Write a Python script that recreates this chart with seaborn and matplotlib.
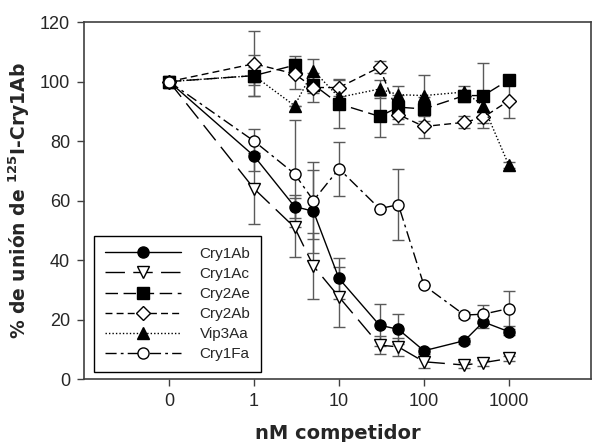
import numpy as np
import matplotlib
matplotlib.use('Agg')
import matplotlib.pyplot as plt
import seaborn as sns
from matplotlib.ticker import NullLocator

# datos (% de union)
conc = [0, 1, 3, 5, 10, 30, 50, 100, 300, 500, 1000]
x_ticks = [0, 1, 10, 100, 1000]
x_tick_labels = ['0', '1', '10', '100', '1000']
zero_pos = 0.1  # el 0 se dibuja una decada por debajo de 1

cry1ab = [100, 75, 58, 56.4, 33.8, 18.1, 16.7, 9.5, 12.9, 19.2, 15.9]
cry1ab_err = [0, 5, 4, 14, 7, 7, 5, 1, 1, 2, 1]
cry1ac = [100, 64, 51, 38, 27.6, 11.4, 10.8, 5.8, 4.7, 5.5, 6.9]
cry1ac_err = [0, 12, 10, 11, 10, 3, 3, 2, 1, 1, 1]
cry2ae = [100, 102, 105.5, 99, 92.5, 88.3, 91.4, 90.8, 95.3, 95.3, 100.6]
cry2ae_err = [0, 7, 3, 3, 8, 7, 4, 4, 2, 11, 0]
cry2ab = [100, 106, 102.6, 98, 98, 104.8, 88.9, 84.9, 86.3, 88, 93.6]
cry2ab_err = [0, 11, 5, 5, 3, 2, 3, 4, 2, 2, 6]
vip3aa = [100, 102, 91.9, 103.7, 94.7, 97.5, 95.6, 95.3, 96.5, 91.9, 71.8]
vip3aa_err = [0, 3, 0, 4, 3, 3, 3, 7, 2, 2, 1]
cry1fa = [100, 80, 69, 60, 70.7, 57.3, 58.6, 31.5, 21.5, 21.8, 23.7]
cry1fa_err = [0, 4, 18, 13, 9, 0, 12, 0, 1, 3, 6]

series = [
    ('Cry1Ab', cry1ab, cry1ab_err, 'o', 'black', '-'),
    ('Cry1Ac', cry1ac, cry1ac_err, 'v', 'white', (0, (14, 6))),
    ('Cry2Ae', cry2ae, cry2ae_err, 's', 'black', (0, (9, 4))),
    ('Cry2Ab', cry2ab, cry2ab_err, 'D', 'white', (0, (5, 3))),
    ('Vip3Aa', vip3aa, vip3aa_err, '^', 'black', (0, (1, 1.5))),
    ('Cry1Fa', cry1fa, cry1fa_err, 'o', 'white', (0, (8, 3, 2, 3))),
]

sns.set_style('ticks')
plt.rcParams['font.family'] = ['Liberation Sans', 'DejaVu Sans']
plt.rcParams['mathtext.fontset'] = 'dejavusans'

xpos = np.array([zero_pos if c == 0 else c for c in conc], dtype=float)

fig = plt.figure(figsize=(5.92, 4.42), dpi=100)
ax = fig.add_axes([0.142, 0.1425, 0.856, 0.8075])

for name, vals, err, mk, fc, ls in series:
    ax.errorbar(xpos, vals, yerr=err, fmt='none', ecolor='#5a5a5a',
                elinewidth=1, capsize=4, capthick=1, zorder=2)
    ms = 8 if mk != 'D' else 7.5
    sns.lineplot(x=xpos, y=vals, ax=ax, color='black', linewidth=1,
                 linestyle=ls, marker=mk, markersize=ms,
                 markerfacecolor=fc, markeredgecolor='black',
                 markeredgewidth=1, label=name, zorder=3)

ax.set_xscale('log')
ax.set_xlim(0.01, 9200)
ax.set_ylim(0, 120)
tick_pos = [zero_pos if t == 0 else t for t in x_ticks]
ax.set_xticks(tick_pos)
ax.set_xticklabels(x_tick_labels)
ax.xaxis.set_minor_locator(NullLocator())
ax.set_yticks(range(0, 121, 20))
ax.tick_params(axis='both', labelsize=13, length=5, width=1,
               direction='out', color='#404040', pad=5)

for sp in ax.spines.values():
    sp.set_color('#404040')
    sp.set_linewidth(1.2)

ax.set_xlabel('nM competidor', fontsize=14, fontweight='bold',
              family='DejaVu Sans', labelpad=10)
ax.set_ylabel(r'% de unión de $^{\mathbf{125}}$I-Cry1Ab', fontsize=13.5,
              fontweight='bold', family='DejaVu Sans', labelpad=6)

leg = ax.legend(loc='lower left', bbox_to_anchor=(0.02, 0.02),
                borderaxespad=0, frameon=True, fancybox=False,
                edgecolor='black', framealpha=1, fontsize=11,
                handlelength=5.0, handletextpad=1.2, labelspacing=0.4,
                borderpad=0.7)
leg.get_frame().set_linewidth(1)

plt.savefig('out.png', dpi=100)
